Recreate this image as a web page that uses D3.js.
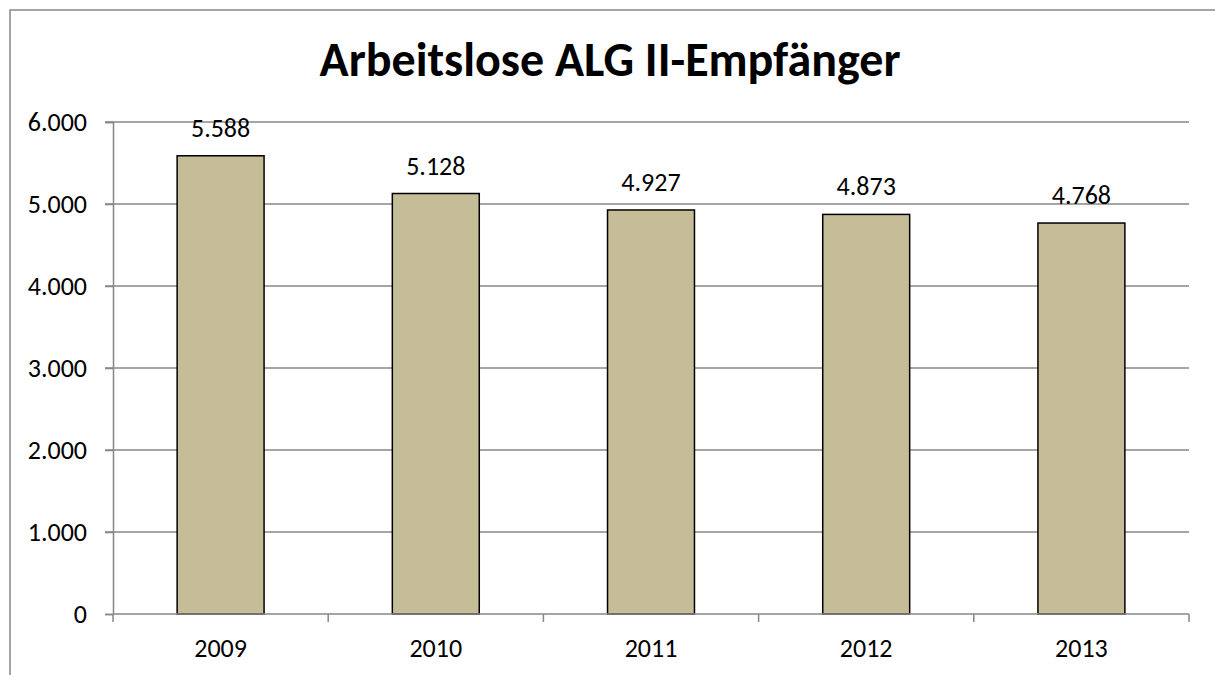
<!DOCTYPE html>
<html>
<head>
<meta charset="utf-8">
<script src="https://cdn.jsdelivr.net/npm/d3@7"></script>
<style>
  body { margin: 0; background: #fff; }
  text { font-family: Carlito, Calibri, Lato, sans-serif; }
</style>
</head>
<body>
<div id="chart"></div>
<script>
// Daten
var years = ["2009", "2010", "2011", "2012", "2013"];
var values = [5588, 5128, 4927, 4873, 4768];
var yTicks = [0, 1000, 2000, 3000, 4000, 5000, 6000];

var W = 1215, H = 675;
var pLeft = 113, pRight = 1189, pTop = 122, pBottom = 614;

var svg = d3.select("#chart").append("svg")
	.attr("width", W).attr("height", H);

svg.append("rect").attr("width", W).attr("height", H).attr("fill", "white");

// outer frame (cut at right and bottom)
svg.append("path")
	.attr("d", "M10," + H + "V10H" + W)
	.style("fill", "none").style("stroke", "#888").style("stroke-width", 1.5);

var x = d3.scaleBand().domain(years).range([pLeft, pRight]).paddingInner(0.596).paddingOuter(0.298);
var xb = d3.scaleBand().domain(years).range([pLeft, pRight]);
var y = d3.scaleLinear().domain([0, 6000]).range([pBottom, pTop]);

var fmt = d3.formatLocale({decimal: ",", thousands: ".", grouping: [3], currency: ["", " €"]}).format(",");

// gridlines
svg.append("g").selectAll("line").data(yTicks.filter(function(d){ return d > 0; })).enter().append("line")
	.attr("x1", pLeft - 8).attr("x2", pRight)
	.attr("y1", function(d){ return y(d); }).attr("y2", function(d){ return y(d); })
	.style("stroke", "#878787").style("stroke-width", 1.5);

// y axis
var yAxis = svg.append("g").attr("transform", "translate(" + pLeft + ",0)")
	.call(d3.axisLeft(y).tickValues(yTicks).tickFormat(function(d){ return fmt(d); }).tickSize(8).tickPadding(18));
yAxis.select(".domain").style("stroke", "#878787").style("stroke-width", 1.5);
yAxis.selectAll(".tick line").style("stroke", "#878787").style("stroke-width", 1.5);
yAxis.selectAll("text").style("font-size", "26px").style("fill", "#000").attr("font-family", null);

// bars
svg.append("g").selectAll("rect").data(values).enter().append("rect")
	.attr("x", function(d, i){ return x(years[i]); })
	.attr("width", x.bandwidth())
	.attr("y", function(d){ return y(d); })
	.attr("height", function(d){ return pBottom - y(d); })
	.style("fill", "#C4BD97").style("stroke", "#000").style("stroke-width", 1.5);

// x axis (ticks between categories)
var xAxis = svg.append("g").attr("transform", "translate(0," + pBottom + ")");
xAxis.append("line").attr("x1", pLeft).attr("x2", pRight)
	.style("stroke", "#878787").style("stroke-width", 1.5);
var bounds = years.map(function(d){ return xb(d); }).concat([pRight]);
xAxis.selectAll(".xt").data(bounds).enter().append("line").attr("class", "xt")
	.attr("x1", function(d){ return d; }).attr("x2", function(d){ return d; })
	.attr("y1", 0).attr("y2", 8)
	.style("stroke", "#878787").style("stroke-width", 1.5);
xAxis.selectAll(".xl").data(years).enter().append("text").attr("class", "xl")
	.attr("x", function(d){ return xb(d) + xb.bandwidth() / 2; })
	.attr("y", 43)
	.attr("text-anchor", "middle")
	.style("font-size", "26px")
	.text(function(d){ return d; });

// data labels
svg.append("g").selectAll("text").data(values).enter().append("text")
	.attr("x", function(d, i){ return xb(years[i]) + xb.bandwidth() / 2; })
	.attr("y", function(d){ return y(d) - 19; })
	.attr("text-anchor", "middle")
	.style("font-size", "26px")
	.text(function(d){ return fmt(d); });

// title
svg.append("text")
	.attr("x", 610).attr("y", 76)
	.attr("text-anchor", "middle")
	.style("font-size", "48px").style("font-weight", "bold")
	.text("Arbeitslose ALG II-Empfänger");
</script>
</body>
</html>
